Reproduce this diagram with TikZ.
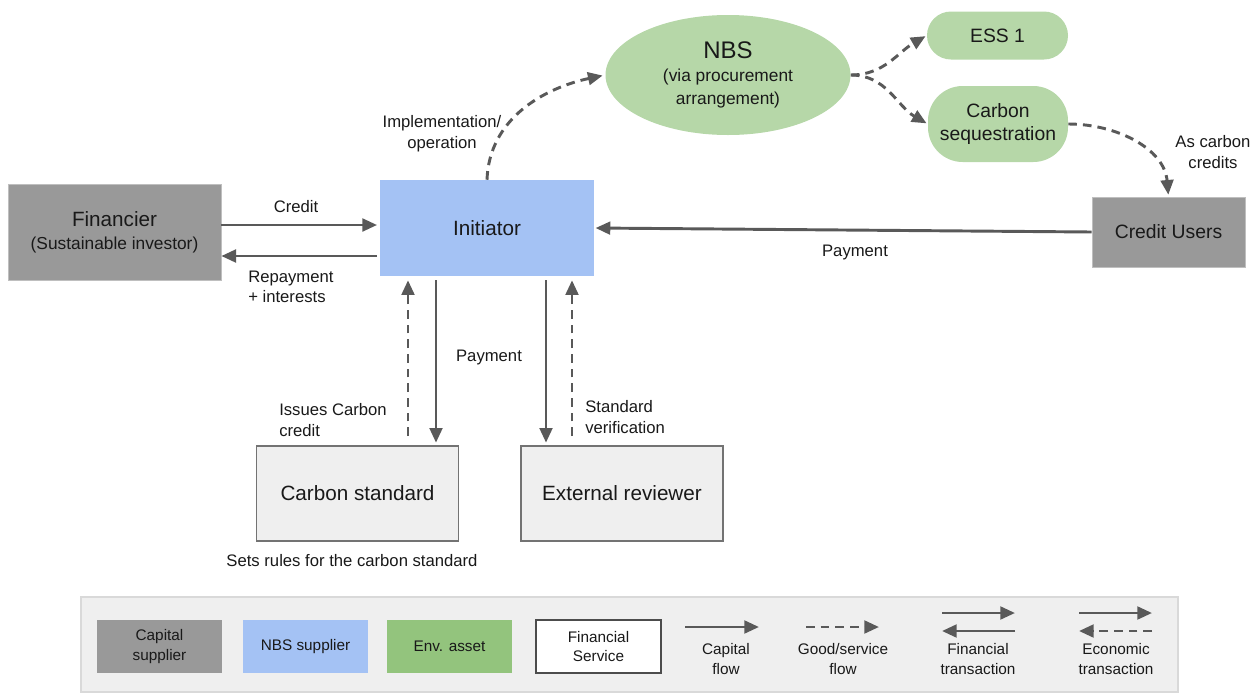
\documentclass[tikz,border=0pt]{standalone}
\usepackage{fontspec}
\setmainfont{Liberation Sans}
\usetikzlibrary{arrows.meta,shapes.geometric}
\definecolor{capgray}{HTML}{999999}
\definecolor{nbsblue}{HTML}{A4C2F4}
\definecolor{envgreen}{HTML}{B6D7A8}
\definecolor{envdark}{HTML}{93C47D}
\definecolor{servgray}{HTML}{EFEFEF}
\definecolor{flowgray}{HTML}{595959}
\tikzset{
	box/.style={rectangle,inner sep=0pt,align=center,text=black!90,font=\fontsize{14.5}{17.5}\selectfont},
	capital/.style={box,fill=capgray,draw=black!25,line width=0.5pt},
	supplier/.style={box,fill=nbsblue},
	asset/.style={box,fill=envgreen},
	service/.style={box,fill=servgray,draw=black!55,line width=1pt},
	flow/.style={draw=flowgray,line width=2.2pt,-{Triangle[length=11pt,width=9.5pt]}},
	goods/.style={flow,dash pattern=on 6.5pt off 4.5pt},
	lbl/.style={inner sep=0pt,align=center,text=black!90,font=\fontsize{12.5}{15.5}\selectfont},
	legbox/.style={box,minimum width=93.75pt,minimum height=39.75pt,font=\fontsize{11.5}{14.5}\selectfont},
	leglbl/.style={lbl,font=\fontsize{11.5}{14.5}\selectfont}
}
\begin{document}
\begin{tikzpicture}[x=0.75pt,y=-0.75pt]
	\useasboundingbox (0,0) rectangle (1256,693);
	% actors
	\node[capital,minimum width=159.75pt,minimum height=72pt] (fin) at (114.5,232)
		{{\fontsize{15.5}{18.5}\selectfont Financier}\\{\fontsize{13}{16}\selectfont (Sustainable investor)}};
	\node[supplier,minimum width=160.5pt,minimum height=72pt,font=\fontsize{15.5}{18}\selectfont] (ini) at (487,228) {Initiator};
	\node[capital,minimum width=114.75pt,minimum height=52.5pt] (users) at (1168.5,232) {Credit Users};
	\node[asset,ellipse,minimum width=183.75pt,minimum height=90pt] (nbs) at (728,75)
		{{\fontsize{18}{20}\selectfont NBS}\\{\fontsize{13}{15.5}\selectfont (via procurement}\\{\fontsize{13}{15.5}\selectfont arrangement)}};
	\node[asset,rounded corners=18pt,minimum width=105.75pt,minimum height=36pt] (ess) at (997.5,35.5) {ESS 1};
	\node[asset,rounded corners=26pt,minimum width=105pt,minimum height=57pt] (seq) at (998,124) {Carbon\\sequestration};
	\node[service,minimum width=151.5pt,minimum height=71.25pt,font=\fontsize{15.5}{18}\selectfont] (cstd) at (357.5,493.5) {Carbon standard};
	\node[service,minimum width=151.5pt,minimum height=71.25pt,font=\fontsize{15.5}{18}\selectfont] (rev) at (622,493.5) {External reviewer};

	% flows
	\draw[flow,shorten >=2pt] (0,225 -| fin.east) -- (0,225 -| ini.west);
	\draw[flow,shorten <=2pt] (0,256 -| ini.west) -- (0,256 -| fin.east);
	\draw[flow,shorten >=1pt] (users.west) -- (ini.east);
	\draw[goods,shorten >=2pt] (ini.north) to[out=88,in=192] (nbs.west);
	\draw[goods,shorten >=1pt] (nbs.east) to[out=0,in=210] (ess.west);
	\draw[goods,shorten >=1pt] (nbs.east) to[out=0,in=150] (seq.west);
	\draw[goods,shorten >=1.5pt] (seq.east) to[out=0,in=95] (users.north);
	\draw[goods,shorten <=7pt,shorten >=3pt] (408,0 |- cstd.north) -- (408,0 |- ini.south);
	\draw[flow,shorten <=3pt,shorten >=2pt] (436,0 |- ini.south) -- (436,0 |- cstd.north);
	\draw[flow,shorten <=3pt,shorten >=2pt] (546,0 |- ini.south) -- (546,0 |- rev.north);
	\draw[goods,shorten <=7pt,shorten >=3pt] (572,0 |- rev.north) -- (572,0 |- ini.south);

	% labels
	\node[lbl] (implbl) at (442,134) {Implementation/\\operation};
	\node[lbl] (credlbl) at (296,207) {Credit};
	\node[lbl,anchor=west,align=left] (replbl) at (248,287) {Repayment\\+ interests};
	\node[lbl] (paylbl) at (855,252) {Payment};
	\node[lbl] (asclbl) at (1213,152) {As carbon\\credits};
	\node[lbl,anchor=west,align=left] (isslbl) at (279,420) {Issues Carbon\\credit};
	\node[lbl] (paystd) at (489,357) {Payment};
	\node[lbl,anchor=west,align=left] (verlbl) at (585,417) {Standard\\verification};
	\node[lbl] (rulelbl) at (352,561) {Sets rules for the carbon standard};

	% legend
	\draw[fill=servgray,draw=black!15,line width=1.2pt] (81,597) rectangle (1178,692);
	\node[legbox,fill=capgray] (lcap) at (159.5,646.5) {Capital\\supplier};
	\node[legbox,fill=nbsblue] (lnbs) at (305.5,646.5) {NBS supplier};
	\node[legbox,fill=envdark] (lenv) at (449.5,646.5) {Env. asset};
	\node[legbox,fill=white,draw=black!70,line width=0.8pt] (lserv) at (598.5,646.5) {Financial\\Service};
	\path
	(685,627) coordinate (cf1) (759,627) coordinate (cf2)
	(806,627) coordinate (gf1) (879,627) coordinate (gf2)
	(942,613) coordinate (ft1) (1015,613) coordinate (ft2)
	(942,631) coordinate (ft3) (1015,631) coordinate (ft4)
	(1079,613) coordinate (et1) (1152,613) coordinate (et2)
	(1079,631) coordinate (et3) (1152,631) coordinate (et4)
	;
	\draw[flow] (cf1) -- (cf2);
	\draw[goods] (gf1) -- (gf2);
	\draw[flow] (ft1) -- (ft2);
	\draw[flow] (ft4) -- (ft3);
	\draw[flow] (et1) -- (et2);
	\draw[goods] (et4) -- (et3);
	\foreach \n/\x/\t in {lcf/726/{Capital\\flow},lgf/843/{Good/service\\flow},lft/978/{Financial\\transaction},let/1116/{Economic\\transaction}}
		\node[leglbl] (\n) at (\x,659) {\t};
\end{tikzpicture}
\end{document}
